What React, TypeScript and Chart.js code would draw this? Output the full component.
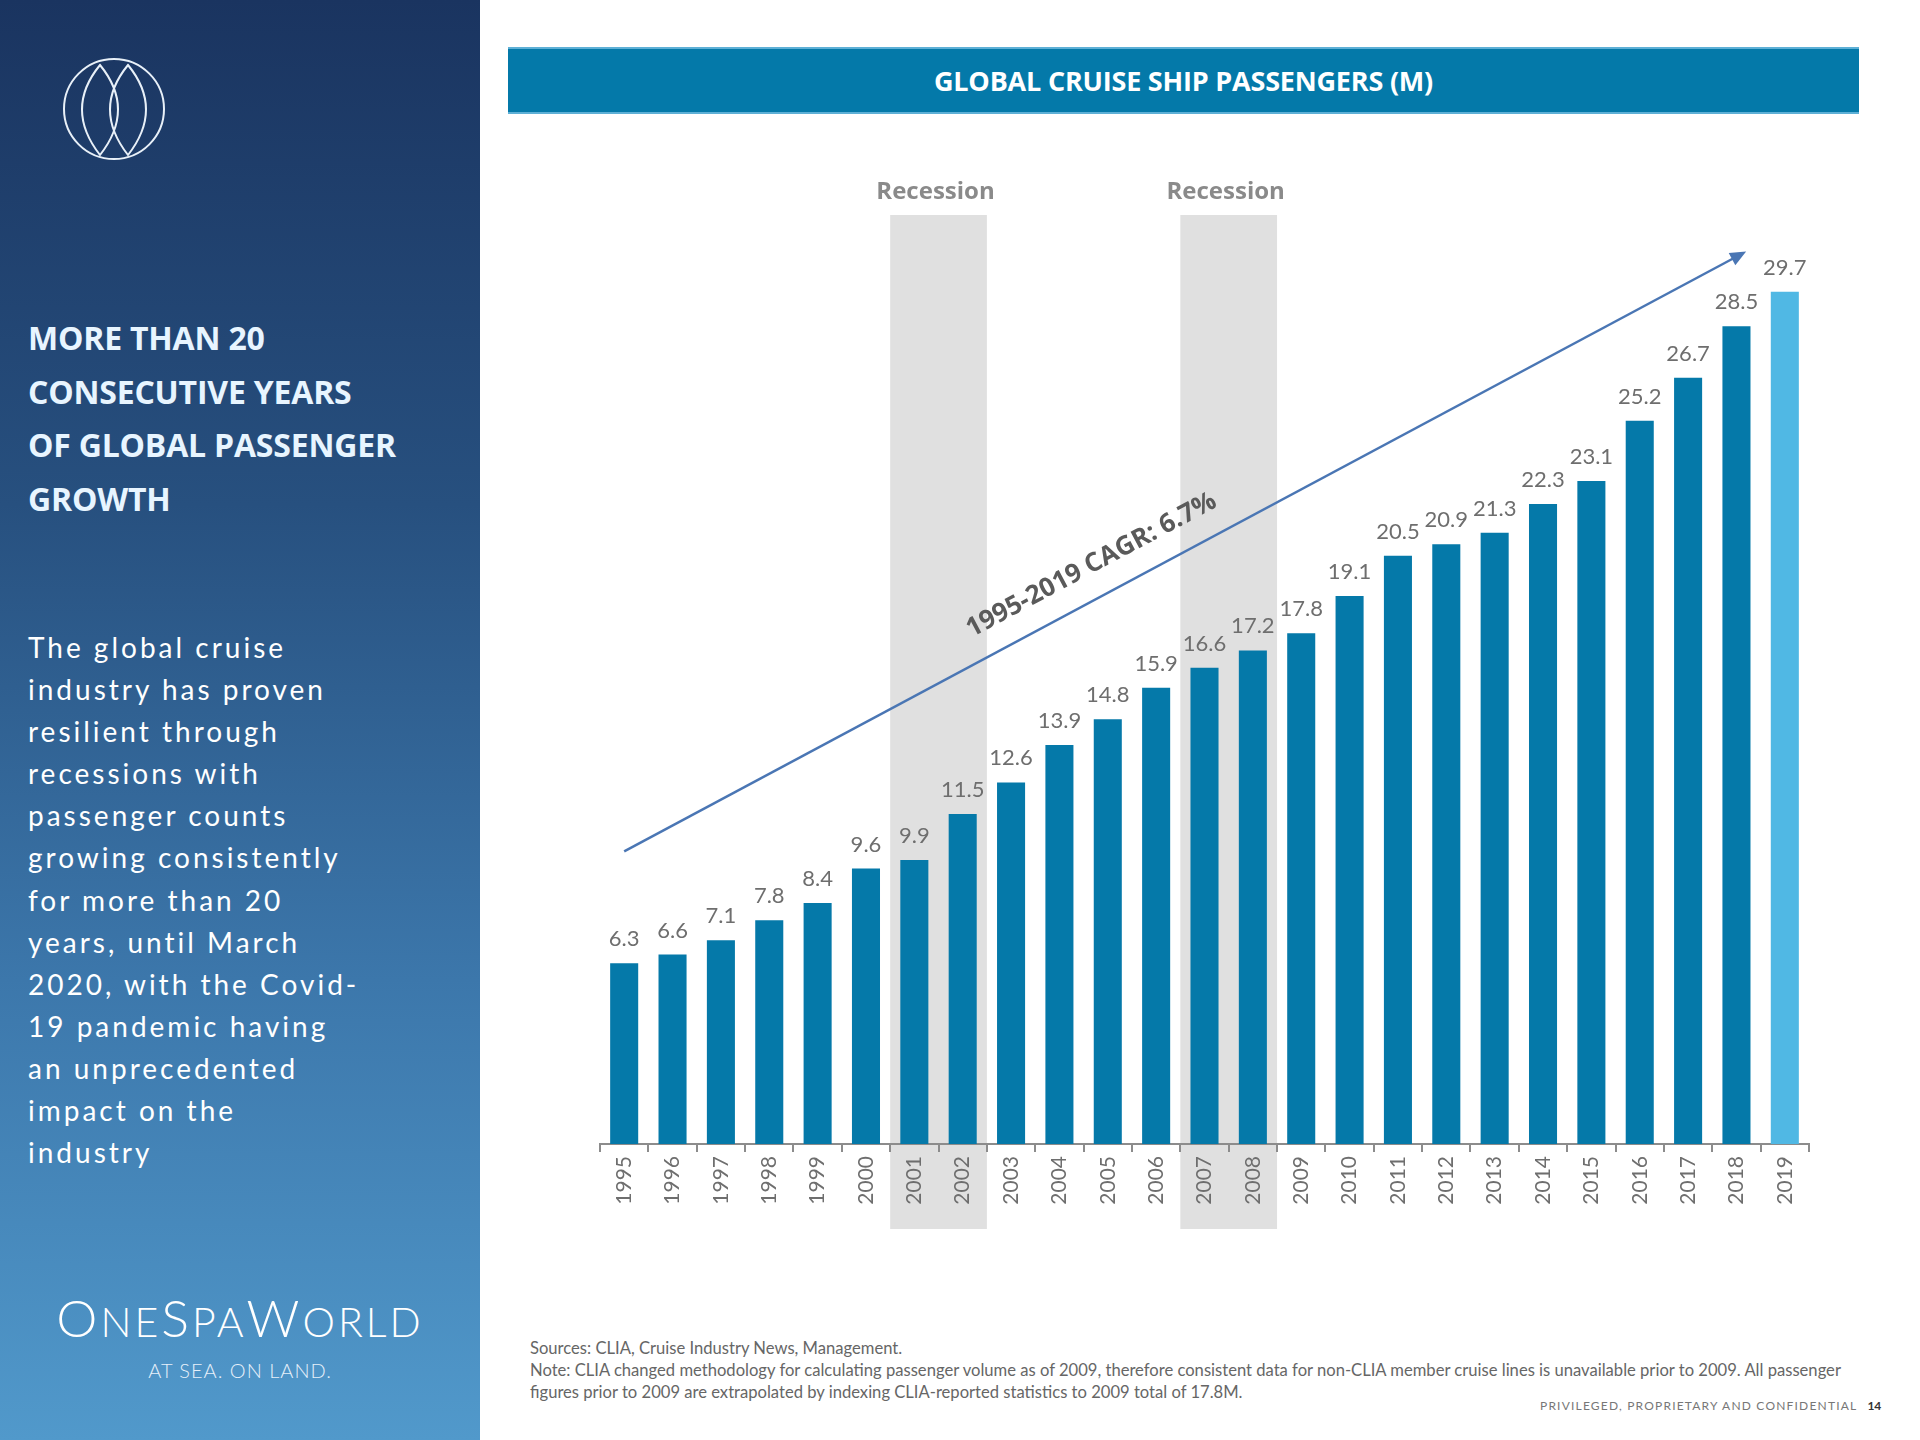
import React, { useEffect, useRef } from "react";
import { Chart, registerables } from "chart.js";

Chart.register(...registerables);

const years = ["1995","1996","1997","1998","1999","2000","2001","2002","2003","2004","2005","2006","2007","2008","2009","2010","2011","2012","2013","2014","2015","2016","2017","2018","2019"];
const passengers = [6.3,6.6,7.1,7.8,8.4,9.6,9.9,11.5,12.6,13.9,14.8,15.9,16.6,17.2,17.8,19.1,20.5,20.9,21.3,22.3,23.1,25.2,26.7,28.5,29.7];
const highlightYear = "2019";
const recessions = [["2001","2002"],["2007","2008"]];
const recessionLabel = "Recession";
const cagrLabel = "1995-2019 CAGR: 6.7%";
const trendStart = { index: 0, value: 10.2 };
const trendEnd = { index: 23.2, value: 31.1 };

const BAR = "#0579a9";
const BAR_HI = "#50b8e4";
const GREY_TXT = "#6e6e6e";

const overlayPlugin = {
  id: "overlay",
  beforeDraw(chart: any) {
    const ctx = chart.ctx;
    const x = chart.scales.x;
    const area = chart.chartArea;
    const cw = (x.getPixelForValue(1) - x.getPixelForValue(0));
    ctx.save();
    recessions.forEach(([a, b]) => {
      const ia = years.indexOf(a), ib = years.indexOf(b);
      const left = x.getPixelForValue(ia) - cw / 2;
      const right = x.getPixelForValue(ib) + cw / 2;
      const top = area.top + 18;
      const bottom = area.bottom + 85;
      ctx.fillStyle = "#e0e0e0";
      ctx.fillRect(left, top, right - left, bottom - top);
      ctx.fillStyle = "#8a8a8a";
      ctx.font = "bold 24px 'Open Sans'";
      ctx.textAlign = "center";
      ctx.textBaseline = "middle";
      ctx.fillText(recessionLabel, (left + right) / 2 - 3, top - 23);
    });
    ctx.restore();
  },
  afterDatasetsDraw(chart: any) {
    const ctx = chart.ctx;
    const meta = chart.getDatasetMeta(0);
    ctx.save();
    ctx.fillStyle = GREY_TXT;
    ctx.font = "22px Lato";
    ctx.textAlign = "center";
    ctx.textBaseline = "alphabetic";
    meta.data.forEach((bar: any, i: number) => {
      ctx.fillText(String(passengers[i]), bar.x, bar.y - 17);
    });
    // trend arrow
    const x = chart.scales.x, y = chart.scales.y;
    const x0 = x.getPixelForValue(trendStart.index), y0 = y.getPixelForValue(trendStart.value);
    const x1 = x.getPixelForValue(trendEnd.index), y1 = y.getPixelForValue(trendEnd.value);
    const ang = Math.atan2(y1 - y0, x1 - x0);
    ctx.strokeStyle = "#4a76b4";
    ctx.fillStyle = "#4a76b4";
    ctx.lineWidth = 2.5;
    ctx.beginPath();
    ctx.moveTo(x0, y0);
    ctx.lineTo(x1 - 10 * Math.cos(ang), y1 - 10 * Math.sin(ang));
    ctx.stroke();
    const hl = 16, hw = 7;
    ctx.beginPath();
    ctx.moveTo(x1, y1);
    ctx.lineTo(x1 - hl * Math.cos(ang) + hw * Math.sin(ang), y1 - hl * Math.sin(ang) - hw * Math.cos(ang));
    ctx.lineTo(x1 - hl * Math.cos(ang) - hw * Math.sin(ang), y1 - hl * Math.sin(ang) + hw * Math.cos(ang));
    ctx.closePath();
    ctx.fill();
    // CAGR label
    const t = 0.43;
    const mx = x0 + (x1 - x0) * t, my = y0 + (y1 - y0) * t;
    const off = 32;
    const px = mx + off * Math.sin(ang), py = my - off * Math.cos(ang);
    ctx.translate(px, py);
    ctx.rotate(ang);
    ctx.fillStyle = "#5a5a5a";
    ctx.font = "bold 26px 'Open Sans'";
    ctx.textAlign = "center";
    ctx.textBaseline = "middle";
    ctx.fillText(cagrLabel, 0, 0);
    ctx.restore();
  },
};

function BarChart() {
  const ref = useRef<HTMLCanvasElement | null>(null);
  useEffect(() => {
    if (!ref.current) return;
    const chart = new Chart(ref.current, {
      type: "bar",
      data: {
        labels: years,
        datasets: [
          {
            data: passengers,
            backgroundColor: years.map((y) => (y === highlightYear ? BAR_HI : BAR)),
            categoryPercentage: 1,
            barPercentage: 0.58,
          },
        ],
      },
      options: {
        responsive: false,
        animation: false,
        maintainAspectRatio: false,
        layout: { padding: { left: 40, right: 71, top: 67, bottom: 26 } },
        plugins: { legend: { display: false }, tooltip: { enabled: false } },
        scales: {
          x: {
            afterFit: (s: any) => { s.height = 80; },
            border: { display: true, color: "#8c8c8c", width: 2 },
            grid: { display: true, drawOnChartArea: false, drawTicks: true, tickLength: 8, color: "#8c8c8c", lineWidth: 2, offset: true },
            ticks: { minRotation: 90, maxRotation: 90, color: GREY_TXT, font: { family: "Lato", size: 21 }, padding: 4, autoSkip: false },
          },
          y: { display: false, min: 0, max: 33 },
        },
      },
      plugins: [overlayPlugin],
    } as any);
    return () => chart.destroy();
  }, []);
  return <canvas ref={ref} width={1320} height={1120} style={{ position: "absolute", left: 560, top: 130, width: 1320, height: 1120 }} />;
}

export default function App() {
  const bodyLines = [
    "The global cruise",
    "industry has proven",
    "resilient through",
    "recessions with",
    "passenger counts",
    "growing consistently",
    "for more than 20",
    "years, until March",
    "2020, with the Covid-",
    "19 pandemic having",
    "an unprecedented",
    "impact on the",
    "industry",
  ];
  const headLines = ["MORE THAN 20", "CONSECUTIVE YEARS", "OF GLOBAL PASSENGER", "GROWTH"];
  return (
    <div style={{ position: "absolute", left: 0, top: 0, width: 1920, height: 1440, background: "#ffffff", overflow: "hidden", fontFamily: "Lato" }}>
      <div style={{ position: "absolute", left: 0, top: 0, width: 480, height: 1440, background: "linear-gradient(180deg, #1a3460 0%, #27507f 35%, #3c77ab 68%, #5199cb 100%)" }}>
        <svg width="200" height="200" style={{ position: "absolute", left: 14, top: 9 }} viewBox="0 0 200 200">
          <g fill="none" stroke="#e8f0f8" strokeWidth="2">
            <circle cx="100" cy="100" r="50" />
            <path d="M86 56 Q50 100 86 146 Q122 100 86 56 Z" />
            <path d="M114 56 Q78 100 114 146 Q150 100 114 56 Z" />
          </g>
        </svg>
        <div style={{ position: "absolute", left: 28, top: 311, color: "#e8f5ff", fontFamily: "'Open Sans'", fontWeight: 700, fontSize: 32, lineHeight: "53.6px", letterSpacing: "-0.2px" }}>
          {headLines.map((l, i) => <div key={i}>{l}</div>)}
        </div>
        <div style={{ position: "absolute", left: 28, top: 626, color: "#ffffff", fontFamily: "Lato", fontSize: 28, lineHeight: "42.1px", letterSpacing: "3px" }}>
          {bodyLines.map((l, i) => <div key={i}>{l}</div>)}
        </div>
        <div style={{ position: "absolute", left: 0, width: 480, top: 1286, textAlign: "center", color: "#ffffff", fontFamily: "Lato", fontWeight: 300, fontSize: 52, letterSpacing: "3px", lineHeight: "62px" }}>
          O<span style={{ fontSize: 41 }}>NE</span>S<span style={{ fontSize: 41 }}>PA</span>W<span style={{ fontSize: 41 }}>ORLD</span>
        </div>
        <div style={{ position: "absolute", left: 0, width: 480, top: 1358, textAlign: "center", color: "#e6f0fa", fontFamily: "Lato", fontWeight: 300, fontSize: 20, letterSpacing: "1px" }}>
          AT SEA. ON LAND.
        </div>
      </div>
      <div style={{ position: "absolute", left: 508, top: 47, width: 1351, height: 67, background: "#0479a9", borderTop: "2px solid #5eb0d6", borderBottom: "2px solid #5eb0d6", boxSizing: "border-box", color: "#ffffff", fontFamily: "'Open Sans'", fontWeight: 700, fontSize: 27, display: "flex", alignItems: "center", justifyContent: "center", letterSpacing: "-0.2px" }}>
        GLOBAL CRUISE SHIP PASSENGERS (M)
      </div>
      <BarChart />
      <div style={{ position: "absolute", left: 530, top: 1337, color: "#666666", fontFamily: "Lato", fontSize: 16.6, lineHeight: "22px" }}>
        <div>Sources: CLIA, Cruise Industry News, Management.</div>
        <div>Note: CLIA changed methodology for calculating passenger volume as of 2009, therefore consistent data for non-CLIA member cruise lines is unavailable prior to 2009. All passenger</div>
        <div>figures prior to 2009 are extrapolated by indexing CLIA-reported statistics to 2009 total of 17.8M.</div>
      </div>
      <div style={{ position: "absolute", left: 1540, top: 1398, color: "#777777", fontFamily: "Lato", fontSize: 12, letterSpacing: "1.2px" }}>
        PRIVILEGED, PROPRIETARY AND CONFIDENTIAL <span style={{ marginLeft: 6, color: "#333", fontWeight: 700, letterSpacing: 0 }}>14</span>
      </div>
    </div>
  );
}
